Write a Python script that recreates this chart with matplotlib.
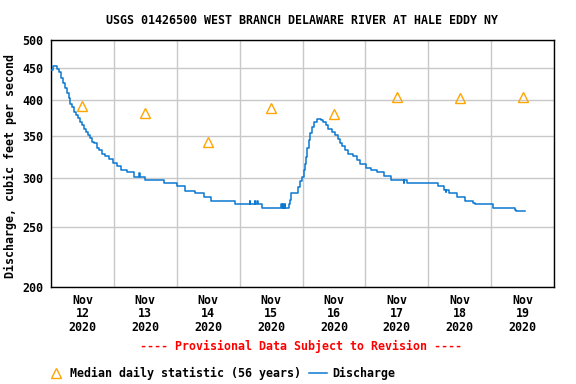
import matplotlib
matplotlib.use("Agg")
import matplotlib.pyplot as plt
from matplotlib.lines import Line2D
from matplotlib.ticker import FixedLocator, NullLocator, FixedFormatter, NullFormatter

# ---------------- data ----------------
title = "USGS 01426500 WEST BRANCH DELAWARE RIVER AT HALE EDDY NY"
ylabel = "Discharge, cubic feet per second"
day_labels = ["Nov\n12\n2020", "Nov\n13\n2020", "Nov\n14\n2020", "Nov\n15\n2020",
              "Nov\n16\n2020", "Nov\n17\n2020", "Nov\n18\n2020", "Nov\n19\n2020"]
y_ticks = [200, 250, 300, 350, 400, 450, 500]

# median daily statistic (56 years), one per day at noon
median_days = [0.5, 1.5, 2.5, 3.5, 4.5, 5.5, 6.5, 7.5]
median_cfs = [391, 381, 342, 389, 380, 405, 403, 405]

# discharge (hours since Nov 12 00:00, cfs) - step series
q_hours = [0.0, 0.8, 2.3, 3.1, 3.8, 4.6, 5.3, 6.1, 6.9, 7.2, 8.0, 8.8, 9.5, 10.3,
           11.1, 11.8, 12.6, 13.4, 14.1, 14.9, 15.6, 16.4, 17.6, 18.3, 19.3, 20.6,
           22.2, 23.8, 25.1, 26.6, 28.9, 31.7, 33.6, 33.9, 35.9, 43.1, 48.2, 51.1,
           54.9, 58.4, 61.1, 70.2, 75.8, 76.0, 77.7, 77.9, 78.8, 79.0, 80.5,
           87.9, 88.1, 88.5, 88.7, 89.3, 89.5, 90.7, 91.2, 91.8, 94.1, 95.0, 95.9,
           96.4, 96.9, 97.4, 97.9, 98.4, 98.9, 99.7, 100.5, 101.4, 103.0, 103.9,
           104.8, 105.8, 107.1, 108.4, 109.4, 110.3, 111.1, 112.2, 113.4, 115.1,
           116.9, 117.9, 120.2, 122.0, 124.5, 127.1, 129.8, 134.7, 134.9, 135.9,
           147.8, 150.0, 150.6, 150.9, 152.0, 154.8, 157.9, 161.1, 161.8, 168.8,
           177.0, 177.4, 181.1]
q_cfs = [448, 454, 449, 444, 434, 426, 418, 410, 403, 395, 390, 383, 379, 374,
         369, 365, 360, 356, 351, 347, 343, 341, 335, 332, 328, 325,
         321, 317, 313, 309, 306, 301, 305, 301, 297, 294, 291, 286,
         283, 279, 275, 272, 275, 272, 275, 272, 275, 272, 268,
         272, 268, 272, 268, 272, 268, 272, 276, 283, 290, 296, 301,
         309, 316, 324, 335, 345, 354, 362, 369, 373, 371, 369,
         365, 360, 356, 351, 346, 341, 337, 332, 328, 325,
         320, 316, 311, 309, 306, 302, 298, 294, 298, 294,
         291, 287, 284, 287, 283, 279, 275, 273, 272, 268,
         266, 265, 265]

# ---------------- style ----------------
FONT = "DejaVu Sans Mono"
FS = 8.4
plt.rcParams["font.family"] = FONT
plt.rcParams["font.weight"] = "bold"
plt.rcParams["font.size"] = FS

LINE_C = "#0a78d0"
TRI_C = "#ffa500"
GRID_C = "#c8c8c8"

W, H = 576, 384
fig = plt.figure(figsize=(W / 100, H / 100), dpi=100)
ax = fig.add_axes([51 / W, 1 - 287 / H, 503 / W, 247 / H])

q_days = [h / 24.0 for h in q_hours]
ax.plot(q_days, q_cfs, color=LINE_C, lw=1.1, drawstyle="steps-post", zorder=3)
ax.plot(median_days, median_cfs, linestyle="none", marker="^", ms=7.5,
        mfc="none", mec=TRI_C, mew=1.0, zorder=4)

ax.set_yscale("log")
ax.set_ylim(200, 500)
ax.set_xlim(0, 8)

ax.yaxis.set_major_locator(FixedLocator(y_ticks))
ax.yaxis.set_major_formatter(FixedFormatter([str(v) for v in y_ticks]))
ax.yaxis.set_minor_locator(NullLocator())
ax.yaxis.set_minor_formatter(NullFormatter())

ax.xaxis.set_major_locator(FixedLocator(list(range(0, 9))))
ax.xaxis.set_major_formatter(NullFormatter())
ax.xaxis.set_minor_locator(FixedLocator(median_days))
ax.xaxis.set_minor_formatter(FixedFormatter(day_labels))

ax.tick_params(axis="both", which="both", length=0)
ax.tick_params(axis="y", pad=5.5, labelsize=FS)
ax.tick_params(axis="x", which="minor", pad=5, labelsize=FS)
for lab in ax.get_xticklabels(minor=True):
    lab.set_linespacing(1.05)
    lab.set_fontweight("bold")
for lab in ax.get_yticklabels():
    lab.set_fontweight("bold")

ax.grid(True, which="major", color=GRID_C, lw=1.0, zorder=0)
ax.set_axisbelow(True)
for s in ax.spines.values():
    s.set_color("black")
    s.set_linewidth(1.0)

# texts
fig.text(302 / W, 1 - 20 / H, title, ha="center", va="center",
         fontsize=FS, fontweight="bold")
fig.text(10.5 / W, 1 - 166 / H, ylabel, rotation=90, ha="center", va="center",
         fontsize=FS, fontweight="bold")
fig.text(301.5 / W, 1 - 346 / H, "---- Provisional Data Subject to Revision ----",
         ha="center", va="center", color="red", fontsize=FS, fontweight="bold")

# legend (manual)
ly = 1 - 373 / H
fig.add_artist(Line2D([56.4 / W], [ly], transform=fig.transFigure, linestyle="none",
                      marker="^", ms=7.5, mfc="none", mec=TRI_C, mew=1.0))
fig.text(70 / W, ly, "Median daily statistic (56 years)", ha="left", va="center",
         fontsize=FS, fontweight="bold")
fig.add_artist(Line2D([309 / W, 327 / W], [ly, ly], transform=fig.transFigure,
                      color=LINE_C, lw=1.1))
fig.text(332 / W, ly, "Discharge", ha="left", va="center",
         fontsize=FS, fontweight="bold")

fig.savefig("out.png", dpi=100)
